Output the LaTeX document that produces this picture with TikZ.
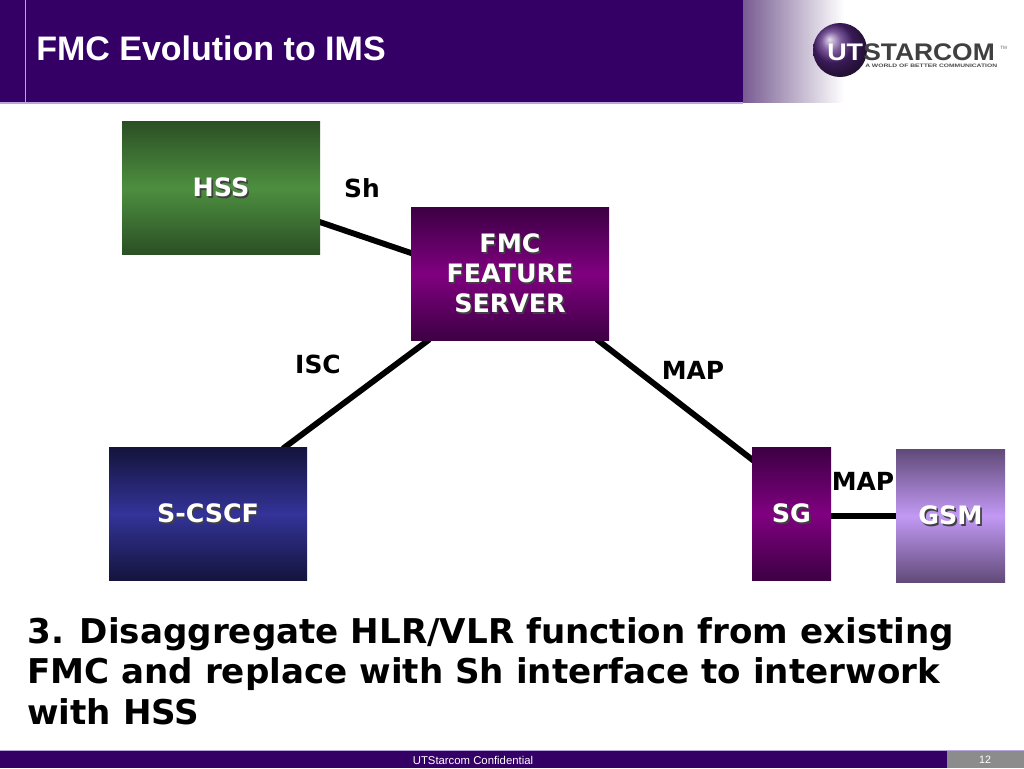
\documentclass[tikz,border=0pt]{standalone}
\usepackage{fontspec}
\setmainfont{Liberation Sans}
\newfontfamily\labelfont{DejaVu Sans}
\usetikzlibrary{backgrounds}
\definecolor{bandcol}{HTML}{350066}
\definecolor{linecol}{HTML}{B8A6DC}
\definecolor{hssdark}{HTML}{2B4F24}
\definecolor{hssmid}{HTML}{4D8F40}
\definecolor{fmcdark}{HTML}{3C0044}
\definecolor{fmcmid}{HTML}{800080}
\definecolor{cscfdark}{HTML}{14143C}
\definecolor{cscfmid}{HTML}{333399}
\definecolor{gsmdark}{HTML}{604A78}
\definecolor{gsmmid}{HTML}{C299F5}
\newcommand{\shtext}[1]{\leavevmode\rlap{\raisebox{-1.2pt}{\kern1.2pt\textcolor{black!75}{#1}}}#1}
\tikzset{
    boxnode/.style={minimum height=100pt, inner sep=0pt, align=center, text=white,
        font=\labelfont\fontsize{19}{22.5}\selectfont\bfseries},
    wire/.style={line width=4.4pt, black},
    wirelabel/.style={inner sep=0pt, font=\labelfont\fontsize{18.7}{21}\selectfont\bfseries}
}
\begin{document}
\begin{tikzpicture}[x=0.75pt, y=-0.75pt]
    \useasboundingbox (0,0) rectangle (1024,768);

    % header
    \shade[left color=bandcol!70!gray, right color=white] (710,0) rectangle (844,102);
    \fill[bandcol] (0,0) rectangle (743,102);
    \fill[linecol] (0,102) rectangle (743,103.5);
    \draw[linecol, line width=0.6pt] (25.5,0)--(25.5,102);
    \node[anchor=base west, inner sep=0pt, text=white, font=\fontsize{25.5}{28}\selectfont\bfseries] (title) at (36,60) {FMC Evolution to IMS};

    % logo
    \shade[ball color=bandcol!85!white] (840,50) circle (27);
    \node[anchor=base west, inner sep=0pt, text=white, font=\fontsize{18}{22}\selectfont\bfseries] (logout) at (827,60) {\scalebox{1.12}[1]{UT}};
    \node[anchor=base west, inner sep=0pt, text=black!75, font=\fontsize{18}{22}\selectfont\bfseries] (logostar) at (863,60) {\scalebox{1.1}[1]{STARCOM}};
    \node[anchor=base west, inner sep=0pt, text=black!70, font=\fontsize{3.7}{4}\selectfont\bfseries] (logosub) at (865,67) {\scalebox{1.36}[1]{A WORLD OF BETTER COMMUNICATION}};
    \node[anchor=base west, inner sep=0pt, text=black!60, font=\fontsize{3.5}{4}\selectfont] (logotm) at (1000,49) {TM};

    % boxes
    \node[boxnode, minimum width=148.5pt, top color=hssdark, bottom color=hssdark, middle color=hssmid] (hss) at (221,188) {\shtext{HSS}};
    \node[boxnode, minimum width=148.5pt, top color=fmcdark, bottom color=fmcdark, middle color=fmcmid] (fmc) at (510,274) {\shtext{FMC}\\\shtext{FEATURE}\hspace{9pt}\\\shtext{SERVER}};
    \node[boxnode, minimum width=148.5pt, top color=cscfdark, bottom color=cscfdark, middle color=cscfmid] (cscf) at (208,514) {\shtext{S-CSCF}};
    \node[boxnode, minimum width=59.25pt, top color=fmcdark, bottom color=fmcdark, middle color=fmcmid] (sg) at (791.5,514) {\shtext{SG}};
    \node[boxnode, minimum width=81.75pt, top color=gsmdark, bottom color=gsmdark, middle color=gsmmid] (gsm) at (950.5,516) {\shtext{GSM}};

    % connectors
    \begin{scope}[on background layer]
        \fill[white] (0,0) rectangle (1024,768);
        \draw[wire, shorten <=-2pt, shorten >=-2pt] (hss.-19.5)--(fmc.168);
        \draw[wire, shorten <=-2pt, shorten >=-2pt] (fmc.-141.8)--(cscf.41);
        \draw[wire, shorten <=-2pt, shorten >=-2pt] (fmc.-37.6)--(sg.126.2);
    \end{scope}
    \draw[wire] (sg.east |- gsm.west)--(gsm.west);

    % notations
    \node[wirelabel] (lsh) at (362,188) {Sh};
    \node[wirelabel] (lisc) at (318,364) {ISC};
    \node[wirelabel] (lmap) at (693,370) {MAP};
    \node[wirelabel] (lmaptwo) at (863,481) {MAP};

    % body text
    \node[anchor=north west, inner sep=0pt, align=left, font=\labelfont\fontsize{25.6}{30.5}\selectfont\bfseries, text=black] (body) at (27,617) {3. Disaggregate HLR/VLR function from existing\\FMC and replace with Sh interface to interwork\\with HSS};

    % footer
    \fill[linecol] (0,750) rectangle (1024,751);
    \fill[bandcol] (0,751) rectangle (947,768);
    \fill[black!45] (947,751) rectangle (1024,768);
    \node[text=white, inner sep=0pt, font=\fontsize{8.5}{10}\selectfont] (conf) at (473,760) {UTStarcom Confidential};
    \node[text=white, inner sep=0pt, font=\fontsize{8}{10}\selectfont] (pagenum) at (985,760) {12};
\end{tikzpicture}
\end{document}
